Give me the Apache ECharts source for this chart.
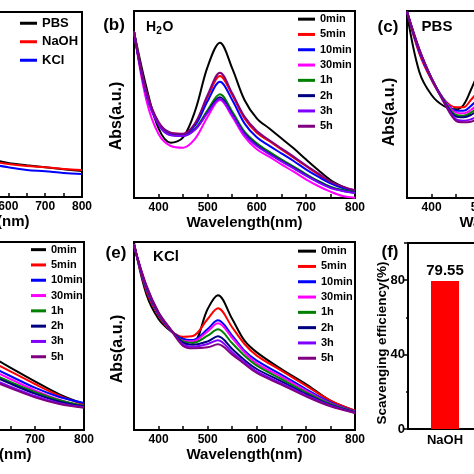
<!DOCTYPE html>
<html><head><meta charset="utf-8">
<script src="https://cdn.jsdelivr.net/npm/echarts@6/dist/echarts.min.js"></script>
<style>html,body{margin:0;padding:0;background:#fff}#c{width:474px;height:474px}</style>
</head><body><div id="c"></div>
<script>
const FONT = '"Liberation Sans", Arial, sans-serif';
const timeLabels = ['0min','5min','10min','30min','1h','2h','3h','5h'];
const timeColors = ['#000000','#FF0000','#0000FF','#FF00FF','#008000','#000080','#8000FF','#800080'];

// (a) solvents
const solventLabels = ['PBS','NaOH','KCl'];
const solventColors = ['#000000','#FF0000','#0000FF'];
const wlSolvent = [550,600,650,700,750,800];
const absSolvent = [
  [1.14,1.02,0.95,0.89,0.83,0.78],
  [1.08,0.99,0.93,0.89,0.84,0.81],
  [0.99,0.89,0.81,0.77,0.72,0.69]
];

// (b) H2O
const wlH2O = [350,375,400,425,450,475,500,525,550,575,600,625,650,675,700,725,750,775,800];
const absH2O = [
  [4.99,3.34,2.09,1.66,1.82,2.64,3.94,4.66,3.89,2.94,2.39,2.09,1.79,1.49,1.16,0.84,0.54,0.34,0.19],
  [4.99,3.19,2.26,1.94,1.92,2.24,3.04,3.66,3.09,2.39,1.96,1.71,1.46,1.21,0.96,0.71,0.47,0.33,0.22],
  [4.99,3.17,2.24,1.92,1.90,2.19,2.91,3.49,2.94,2.24,1.82,1.57,1.34,1.11,0.86,0.64,0.44,0.30,0.21],
  [4.99,2.94,1.92,1.56,1.51,1.79,2.44,2.94,2.44,1.84,1.46,1.24,1.01,0.79,0.56,0.36,0.19,0.06,0.01],
  [4.99,3.14,2.22,1.90,1.88,2.09,2.64,3.11,2.59,1.99,1.64,1.39,1.16,0.94,0.72,0.51,0.34,0.24,0.18],
  [4.99,3.12,2.21,1.89,1.87,2.07,2.58,3.02,2.52,1.94,1.59,1.34,1.12,0.91,0.69,0.49,0.32,0.22,0.16],
  [4.99,3.11,2.20,1.88,1.86,2.06,2.56,2.97,2.49,1.91,1.56,1.32,1.10,0.89,0.67,0.47,0.30,0.21,0.15],
  [4.99,3.22,2.28,1.96,1.93,2.26,3.09,3.76,3.14,2.44,2.01,1.74,1.49,1.24,0.98,0.74,0.49,0.34,0.23]
];

// (c) PBS
const wlPBS = [350,375,400,425,450,465,480,500];
const absPBS = [
  [5.54,3.79,3.09,2.76,2.66,2.79,3.24,3.94],
  [5.59,4.34,3.54,2.96,2.72,2.72,2.94,3.29],
  [5.59,4.39,3.57,2.96,2.62,2.62,2.76,3.04],
  [5.59,4.42,3.59,2.96,2.56,2.54,2.64,2.89],
  [5.59,4.44,3.59,2.94,2.49,2.47,2.56,2.79],
  [5.59,4.44,3.59,2.92,2.44,2.42,2.49,2.69],
  [5.59,4.46,3.59,2.89,2.36,2.32,2.36,2.49],
  [5.59,4.47,3.59,2.87,2.31,2.27,2.29,2.39]
];

// (d) NaOH (visible tail)
const wlNaOH = [600,650,700,750,800];
const absNaOH = [
  [2.30,1.87,1.46,1.07,0.78],
  [2.14,1.76,1.38,1.03,0.76],
  [1.98,1.62,1.27,0.99,0.81],
  [1.88,1.53,1.19,0.91,0.70],
  [1.77,1.44,1.14,0.89,0.72],
  [1.72,1.39,1.09,0.85,0.71],
  [1.61,1.30,1.02,0.80,0.68],
  [1.55,1.26,0.98,0.78,0.67]
];

// (e) KCl
const wlKCl = [350,375,400,425,450,470,500,521,550,575,600,650,700,750,800];
const absKCl = [
  [5.63,4.08,3.33,2.96,2.74,2.62,3.63,4.04,3.33,2.68,2.33,1.83,1.38,0.88,0.58],
  [5.58,4.18,3.43,2.98,2.80,2.82,3.33,3.65,3.08,2.58,2.23,1.78,1.33,0.88,0.58],
  [5.56,4.23,3.46,2.98,2.73,2.70,3.03,3.29,2.83,2.38,2.08,1.66,1.23,0.83,0.56],
  [5.56,4.26,3.48,2.98,2.68,2.66,2.96,3.20,2.76,2.33,2.00,1.60,1.18,0.80,0.55],
  [5.55,4.28,3.49,2.99,2.66,2.62,2.83,3.02,2.60,2.23,1.93,1.53,1.13,0.78,0.54],
  [5.54,4.30,3.50,3.00,2.62,2.56,2.66,2.81,2.43,2.10,1.83,1.46,1.08,0.75,0.53],
  [5.53,4.33,3.52,3.01,2.56,2.50,2.58,2.69,2.33,2.03,1.76,1.40,1.04,0.73,0.52],
  [5.52,4.35,3.53,3.01,2.52,2.45,2.48,2.57,2.26,1.98,1.71,1.36,1.01,0.71,0.51]
];

// (f) scavenging efficiency
const effCategories = ['NaOH'];
const effValues = [79.55];

const grids = [
  {left:-139, top:12, width:221, height:185},
  {left:134, top:11, width:221, height:187},
  {left:407, top:11, width:221, height:187},
  {left:-137, top:242, width:221, height:188},
  {left:134, top:242, width:221, height:188},
  {left:408, top:243, width:74, height:186}
];
grids.forEach(g => { g.show = true; g.borderColor = '#000'; g.borderWidth = 2; g.containLabel = false; g.outerBoundsMode = 'none'; });

function wlAxis(idx, min, gap) {
  return {
    type:'value', gridIndex: idx, min: min, max: 800, interval: 50,
    axisLine:{show:true, onZero:false, lineStyle:{color:'#000', width:2}},
    axisTick:{show:true, inside:true, length:4, lineStyle:{color:'#000', width:1.5}},
    axisLabel:{margin:4, color:'#000', fontSize:12, fontWeight:'bold', fontFamily:FONT,
      hideOverlap:false, formatter: v => (v % 100 === 0 ? String(v) : '')},
    splitLine:{show:false},
    name:'Wavelength(nm)', nameLocation:'middle', nameGap: gap,
    nameTextStyle:{color:'#000', fontSize:15, fontWeight:'bold', fontFamily:FONT}
  };
}
function absAxis(idx, max) {
  return {
    type:'value', gridIndex: idx, min:0, max:max,
    axisLine:{show:true, lineStyle:{color:'#000', width:2}},
    axisTick:{show:false}, axisLabel:{show:false}, splitLine:{show:false}
  };
}

const xAxis = [
  wlAxis(0, 200, 15), wlAxis(1, 350, 14), wlAxis(2, 350, 14), wlAxis(3, 350, 15), wlAxis(4, 350, 12),
  {type:'category', gridIndex:5, data: effCategories,
   axisLine:{lineStyle:{color:'#000', width:2}},
   axisTick:{alignWithLabel:true, length:4, lineStyle:{color:'#000', width:1.5}},
   axisLabel:{margin:5, color:'#000', fontSize:13, fontWeight:'bold', fontFamily:FONT}}
];
const yAxis = [
  absAxis(0, 5.55), absAxis(1, 5.61), absAxis(2, 5.61), absAxis(3, 5.64), absAxis(4, 5.64),
  {type:'value', gridIndex:5, min:0, max:100, interval:40,
   axisLine:{show:true, lineStyle:{color:'#000', width:2}},
   axisTick:{show:true, length:4, lineStyle:{color:'#000', width:1.5}},
   minorTick:{show:true, splitNumber:2, length:2, lineStyle:{color:'#000', width:1.5}},
   axisLabel:{margin:3, color:'#000', fontSize:13, fontWeight:'bold', fontFamily:FONT, showMaxLabel:false},
   splitLine:{show:false}}
];

const series = [];
function addLines(idx, names, colors, wl, data) {
  data.forEach((row, i) => {
    series.push({
      type:'line', name:names[i], xAxisIndex:idx, yAxisIndex:idx,
      data: wl.map((w, j) => [w, row[j]]),
      smooth:0.35, showSymbol:false, symbol:'none', color:colors[i],
      lineStyle:{width:2, color:colors[i]}, animation:false
    });
  });
}
addLines(0, solventLabels, solventColors, wlSolvent, absSolvent);
addLines(1, timeLabels, timeColors, wlH2O, absH2O);
addLines(2, timeLabels, timeColors, wlPBS, absPBS);
addLines(3, timeLabels, timeColors, wlNaOH, absNaOH);
addLines(4, timeLabels, timeColors, wlKCl, absKCl);
series.push({
  type:'bar', xAxisIndex:5, yAxisIndex:5, data: effValues, barWidth:28,
  itemStyle:{color:'#FF0000'}, animation:false,
  label:{show:true, position:'top', distance:3, color:'#000', fontSize:15, fontWeight:'bold', fontFamily:FONT,
    formatter: p => p.value.toFixed(2)}
});

function legendAt(left, top, names, colors, lh, fs, iw) {
  return {
    orient:'vertical', left:left, top:top, padding:0, itemGap:0, icon:'rect',
    itemWidth:iw, itemHeight:3, selectedMode:false,
    data: names.map((n, i) => ({name:n, itemStyle:{color:colors[i]}})),
    textStyle:{color:'#000', fontSize:fs, fontWeight:'bold', fontFamily:FONT, lineHeight:lh}
  };
}
const legend = [
  legendAt(20, 14, solventLabels, solventColors, 18.5, 13, 17),
  legendAt(298, 11.5, timeLabels, timeColors, 15.3, 11, 17),
  legendAt(31, 242, timeLabels, timeColors, 15.3, 11, 15),
  legendAt(298, 243.5, timeLabels, timeColors, 15.3, 11, 18)
];

function txt(x, y, s, size, rot) {
  return {type:'text', x:x, y:y, rotation: rot || 0, silent:true,
    style:{text:s, fill:'#000', font:'bold ' + size + 'px ' + FONT,
      align:'center', verticalAlign:'middle', textAlign:'center', textVerticalAlign:'middle'}};
}
const graphic = [
  txt(114, 25, '(b)', 17),
  txt(151, 27, 'H', 14), txt(159, 31, '2', 10), txt(168, 27, 'O', 14),
  txt(117, 116, 'Abs(a.u.)', 16, Math.PI/2),
  txt(388, 27, '(c)', 17),
  txt(437, 27, 'PBS', 15),
  txt(390, 112, 'Abs(a.u.)', 16, Math.PI/2),
  txt(116, 253, '(e)', 17),
  txt(166, 257, 'KCl', 15),
  txt(118, 349, 'Abs(a.u.)', 16, Math.PI/2),
  txt(390, 252, '(f)', 17),
  txt(382, 343, 'Scavenging efficiency(%)', 13.5, Math.PI/2)
];

const chart = echarts.init(document.getElementById('c'), null, {renderer:'canvas'});
chart.setOption({animation:false, backgroundColor:'#fff', grid:grids, xAxis:xAxis, yAxis:yAxis,
  series:series, legend:legend, graphic:graphic});
</script></body></html>
